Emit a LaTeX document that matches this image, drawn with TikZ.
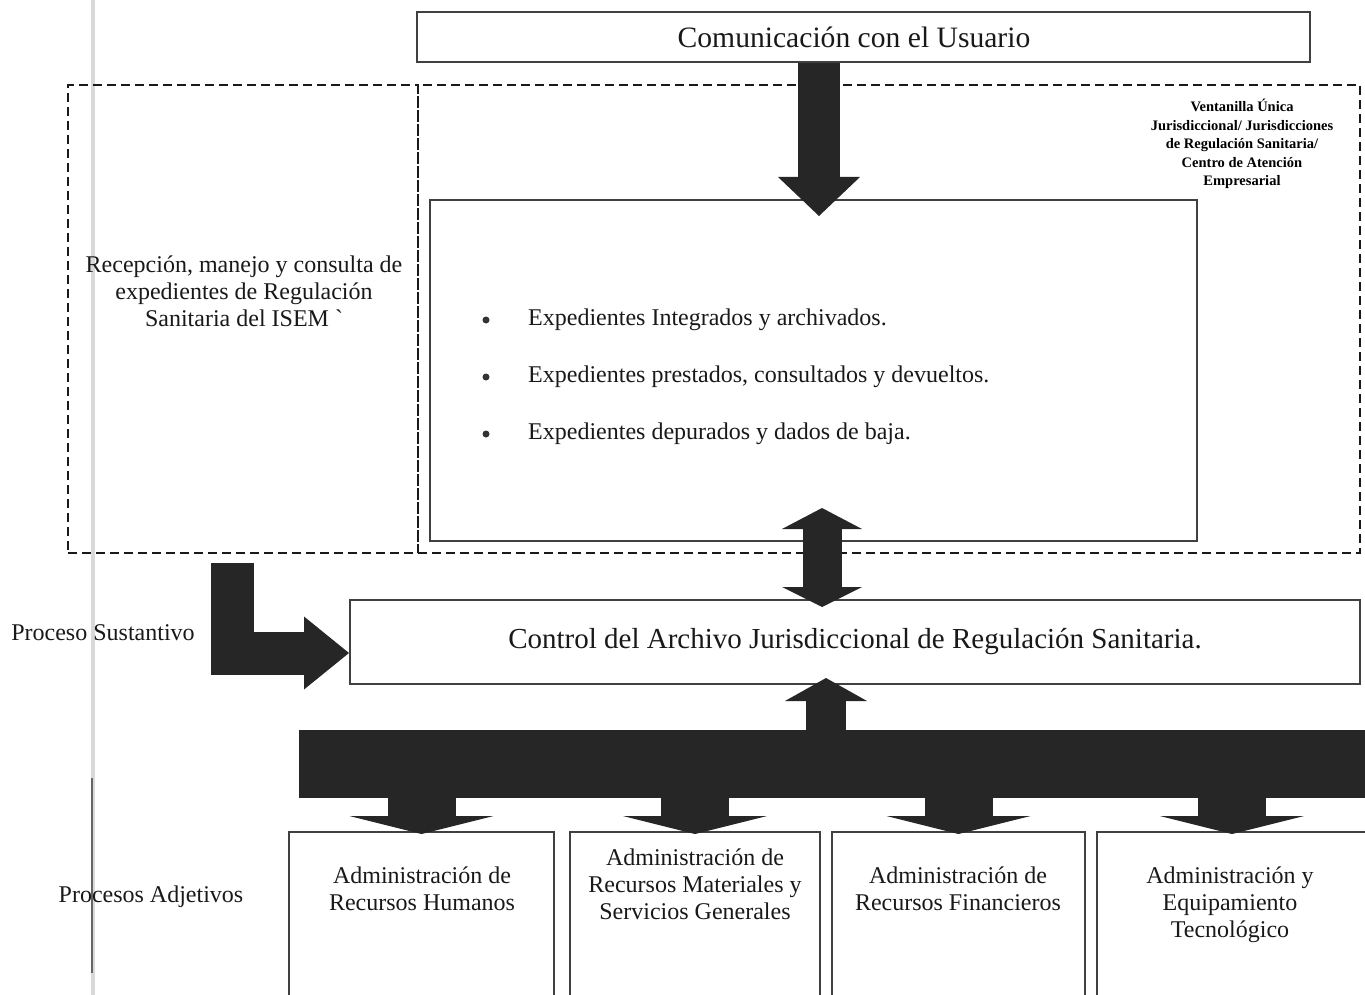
\documentclass[tikz,border=0pt]{standalone}
\usepackage{fontspec}
\setmainfont{Liberation Serif}
\usetikzlibrary{arrows.meta}

\tikzset{
  caja/.style={draw=black!75, line width=2pt, inner sep=0pt},
  zona/.style={draw=black!90, line width=2pt, dash pattern=on 9pt off 5pt, inner sep=0pt},
  flecha/.style={draw=black!85, line width=#1},
  texto/.style={text=black!90, align=center, inner sep=0pt, font=\fontsize{24}{27}\selectfont},
}

\begin{document}
\begin{tikzpicture}[x=1pt, y=-1pt]
        \clip (0,0) rectangle (1365,995);
        \fill[white] (0,0) rectangle (1365,995);

        \draw[black!15, line width=4pt] (93,0) -- (93,995);
        \draw[black!60, line width=2pt] (92,778) -- (92,973);

        \node[caja, minimum width=893pt, minimum height=50pt, text=black!90, font=\fontsize{29.6}{34}\selectfont] (usuario) at (863.5,37) {\raisebox{-3pt}{Comunicación con el Usuario}\hspace*{19pt}};
        \node[zona, minimum width=350pt, minimum height=468pt] (zonaizq) at (243,319) {};
        \node[zona, minimum width=942pt, minimum height=468pt] (zonader) at (889,319) {};
        \node[caja, minimum width=767pt, minimum height=341pt] (expedientes) at (813.5,370.5) {};
        \node[caja, minimum width=1010pt, minimum height=84pt, text=black!90, font=\fontsize{29}{33}\selectfont] (control) at (855,642) {Control del Archivo Jurisdiccional de Regulación Sanitaria.};
        \node[fill=black!85, minimum width=1071pt, minimum height=68pt, inner sep=0pt] (barra) at (834.5,764) {};

        \node[caja, minimum width=265pt, minimum height=178pt] (adm1) at (421.5,921) {};
        \node[caja, minimum width=250pt, minimum height=178pt] (adm2) at (695,921) {};
        \node[caja, minimum width=253pt, minimum height=178pt] (adm3) at (958.5,921) {};
        \node[caja, minimum width=270pt, minimum height=178pt] (adm4) at (1232,921) {};

        \node[texto] (recepcion) at (244,291) {Recepción, manejo y consulta de\\expedientes de Regulación\\Sanitaria del ISEM \textasciigrave};
        \node[texto, text=black, font=\bfseries\fontsize{14.5}{18.5}\selectfont] (ventanilla) at (1242,144) {Ventanilla Única\\Jurisdiccional/ Jurisdicciones\\de Regulación Sanitaria/\\Centro de Atención\\Empresarial};
        \node[texto] (sustantivo) at (103,633) {Proceso Sustantivo};
        \node[texto] (adjetivos) at (151,897) {Procesos Adjetivos};

        \foreach \t [count=\i] in {Expedientes Integrados y archivados., {Expedientes prestados, consultados y devueltos.}, Expedientes depurados y dados de baja.} {
          \fill[black!80] (486,263+57*\i) circle (3.5pt);
          \node[texto, anchor=west] (exp\i) at (528,263+57*\i) {\t};
        }

        \node[texto] (t1) at (422,889) {Administración de\\Recursos Humanos};
        \node[texto] (t2) at (695,884) {Administración de\\Recursos Materiales y\\Servicios Generales};
        \node[texto] (t3) at (958,889) {Administración de\\Recursos Financieros};
        \node[texto] (t4) at (1230,905) {Administración y\\Equipamiento\\Tecnológico};

        \coordinate (ejeA) at (819,0);
        \coordinate (ejeB) at (822,0);
        \coordinate (ejeC) at (826,0);
        \coordinate (codo) at (232,563);

        \draw[flecha=42pt, -{Triangle[length=39pt,width=82pt,line width=0pt]}, shorten >=-17pt] (ejeA |- usuario.south) -- (ejeA |- expedientes.north);
        \draw[flecha=39pt, {Triangle[length=21pt,width=80pt,line width=0pt]}-{Triangle[length=20pt,width=80pt,line width=0pt]}, shorten <=-34pt, shorten >=-8pt] (ejeB |- expedientes.south) -- (ejeB |- control.north);
        \draw[flecha=40pt, -{Triangle[length=23pt,width=82pt,line width=0pt]}, shorten >=-7pt] (ejeC |- barra.north) -- (ejeC |- control.south);
        \draw[flecha=43pt, -{Triangle[length=45pt,width=73pt,line width=0pt]}] (codo) |- ([yshift=-11pt]control.west);
        \foreach \i in {1,...,4}
          \draw[flecha=68pt, -{Triangle[length=18pt,width=144pt,line width=0pt]}, shorten >=-3pt] (adm\i.north |- barra.south) -- (adm\i.north);
      \end{tikzpicture}
\end{document}
